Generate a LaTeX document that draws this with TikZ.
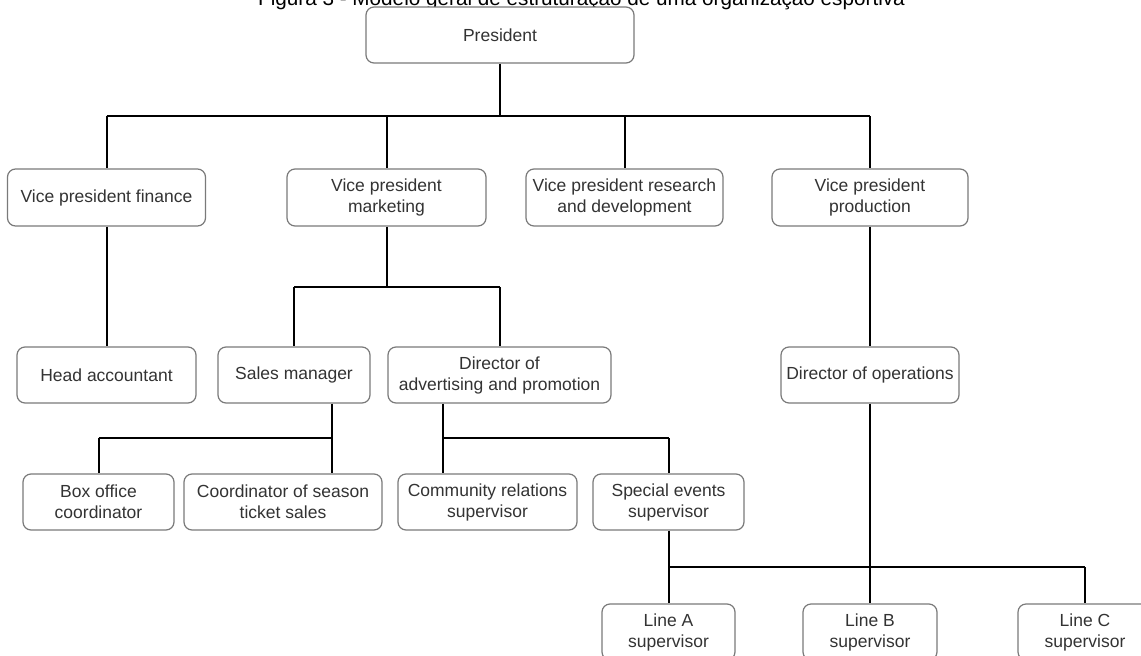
\documentclass[tikz,border=0pt]{standalone}
\usepackage{fontspec}
\setmainfont{Liberation Sans}
\definecolor{boxgray}{HTML}{7A7A7A}
\definecolor{labelgray}{HTML}{333333}
\begin{document}
\begin{tikzpicture}[x=1pt,y=-1pt,
  unit/.style={draw=boxgray, line width=1.2pt, rounded corners=8pt, fill=white,
    minimum height=56pt, inner sep=0pt, align=center, text=labelgray,
    font=\fontsize{17.5}{21}\selectfont},
  link/.style={line width=2pt, draw=black}]
\clip (0,0) rectangle (1141,656);

% heading
\node[anchor=base, inner sep=0pt, font=\fontsize{20.7}{24}\selectfont] (title) at (581.5,5)
  {Figura 3 - Modelo geral de estruturação de uma organização esportiva};

% top level
\node[unit, minimum width=268pt] (pres) at (500,35) {President};

% vice presidents
\node[unit, minimum width=198pt, minimum height=57pt] (vpf) at (106.5,197.5) {Vice president finance};
\node[unit, minimum width=199pt, minimum height=57pt] (vpm) at (386.5,197.5) {Vice president\\marketing};
\node[unit, minimum width=197pt, minimum height=57pt] (vpr) at (624.5,197.5) {Vice president research\\and development};
\node[unit, minimum width=196pt, minimum height=57pt] (vpp) at (870,197.5) {Vice president\\production};

% second level
\node[unit, minimum width=179pt] (head) at (106.5,375) {Head accountant};
\node[unit, minimum width=152pt] (sales) at (294,375) {Sales manager};
\node[unit, minimum width=223pt] (adv) at (499.5,375) {Director of\\advertising and promotion};
\node[unit, minimum width=178pt] (ops) at (870,375) {Director of operations};

% third level
\node[unit, minimum width=151pt] (boxo) at (98.5,502) {Box office\\coordinator};
\node[unit, minimum width=198pt] (coord) at (283,502) {Coordinator of season\\ticket sales};
\node[unit, minimum width=179pt] (comm) at (487.5,502) {Community relations\\supervisor};
\node[unit, minimum width=151pt] (spec) at (668.5,502) {Special events\\supervisor};

% line supervisors
\node[unit, minimum width=133pt] (lineA) at (668.5,632) {Line A\\supervisor};
\node[unit, minimum width=134pt] (lineB) at (870,632) {Line B\\supervisor};
\node[unit, minimum width=134pt] (lineC) at (1085,632) {Line C\\supervisor};

% bus coordinates
\coordinate (busA) at (500,116);
\coordinate (busB) at (386.5,287);
\coordinate (busC) at (332,438);
\coordinate (busD) at (443,438);
\coordinate (busE) at (870,567);

% president to vice presidents
\draw[link] (pres.south) -- (busA);
\draw[link] (busA -| vpf.north) -- (busA -| vpp.north);
\draw[link] (busA -| vpf.north) -- (vpf.north);
\draw[link] (busA -| vpm.north) -- (vpm.north);
\draw[link] (busA -| vpr.north) -- (vpr.north);
\draw[link] (busA -| vpp.north) -- (vpp.north);

% finance
\draw[link] (vpf.south) -- (head.north);

% marketing
\draw[link] (vpm.south) -- (busB);
\draw[link] (busB -| sales.north) -- (busB -| adv.north);
\draw[link] (busB -| sales.north) -- (sales.north);
\draw[link] (busB -| adv.north) -- (adv.north);

% sales manager
\draw[link] ([xshift=38pt]sales.south) -- (busC);
\draw[link] (busC -| boxo.north) -- (busC);
\draw[link] (busC -| boxo.north) -- (boxo.north);
\draw[link] (busC) -- ([xshift=49pt]coord.north);

% advertising and promotion
\draw[link] ([xshift=-56.5pt]adv.south) -- (busD);
\draw[link] (busD) -- (busD -| spec.north);
\draw[link] (busD) -- ([xshift=-44.5pt]comm.north);
\draw[link] (busD -| spec.north) -- (spec.north);

% production
\draw[link] (vpp.south) -- (ops.north);
\draw[link] (ops.south) -- (busE);
\draw[link] (spec.south) -- (busE -| spec.south);
\draw[link] (busE -| lineA.north) -- (busE -| lineC.north);
\draw[link] (busE -| lineA.north) -- (lineA.north);
\draw[link] (busE -| lineB.north) -- (lineB.north);
\draw[link] (busE -| lineC.north) -- (lineC.north);
\end{tikzpicture}
\end{document}
